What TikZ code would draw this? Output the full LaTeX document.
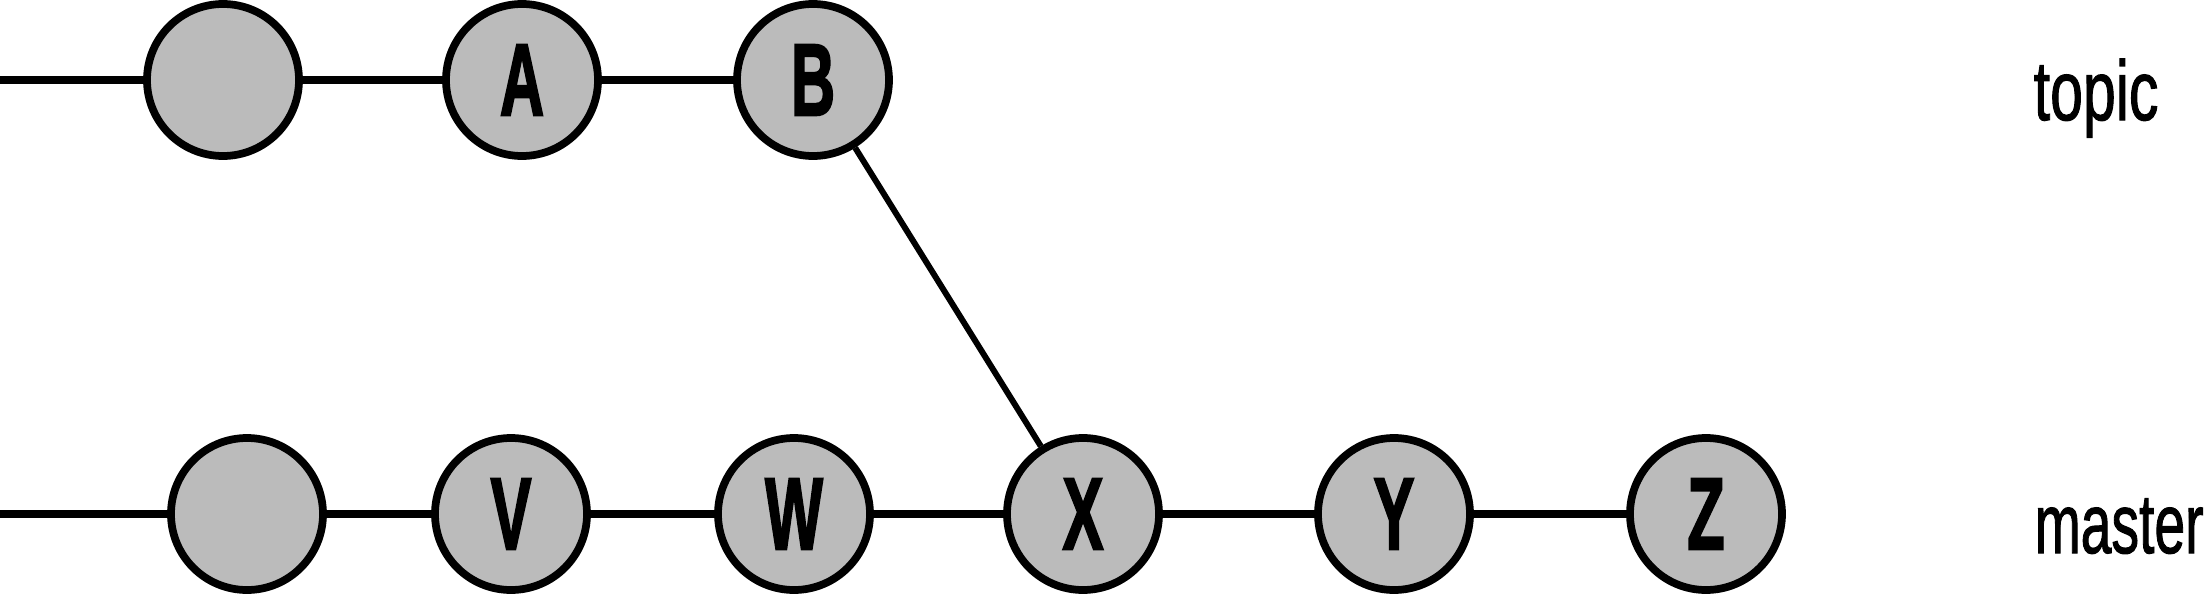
\documentclass[tikz,border=0pt]{standalone}
\usepackage{fontspec}
\setmainfont{Liberation Sans}
\newfontfamily\commitfont{Liberation Sans Bold}[FakeBold=2.5]
\newfontfamily\reffont{Liberation Sans}[FakeBold=1.5]
\usepackage{tikz}
\usetikzlibrary{positioning}
\definecolor{commitgray}{RGB}{187,187,187}
\newcommand{\narrowtext}[2][0.7]{\scalebox{#1}[1]{#2}}

\begin{document}
\begin{tikzpicture}
    \tikzset{commit/.style={circle,draw=black,line width=2.2pt,fill=commitgray,minimum size=1.52cm,inner sep=0pt,font=\commitfont\fontsize{29}{29}\selectfont},
      branch/.style={line width=2pt},
      ref/.style={anchor=base west,inner sep=0pt,font=\reffont\fontsize{24}{24}\selectfont}}
    \useasboundingbox (0,0) rectangle (22.08,5.97);
    % topic branch
    \coordinate (tstart) at (0,5.17);
    \node[commit] (t0) at (2.23,5.17) {};
    \node[commit] (A) at (5.22,5.17) {\narrowtext[0.6]{A}};
    \node[commit] (B) at (8.13,5.17) {\narrowtext[0.6]{B}};
    % master branch
    \coordinate (mstart) at (0,0.83);
    \node[commit] (m0) at (2.47,0.83) {};
    \foreach \n/\x in {V/5.11,W/7.94,X/10.83,Y/13.94,Z/17.06}{
      \node[commit] (\n) at (\x,0.83) {\narrowtext[0.6]{\n}};
    }
    \draw[branch] (tstart) -- (t0) -- (A) -- (B);
    \draw[branch] (mstart) -- (m0) -- (V) -- (W) -- (X) -- (Y) -- (Z);
    \draw[line width=1.7pt] (B) -- (X);
    % branch names
    \node[ref] (topic) at (20.33,4.77) {\narrowtext{topic}};
    \node[ref] (master) at (20.34,0.44) {\narrowtext[0.655]{master}};
  \end{tikzpicture}
\end{document}
